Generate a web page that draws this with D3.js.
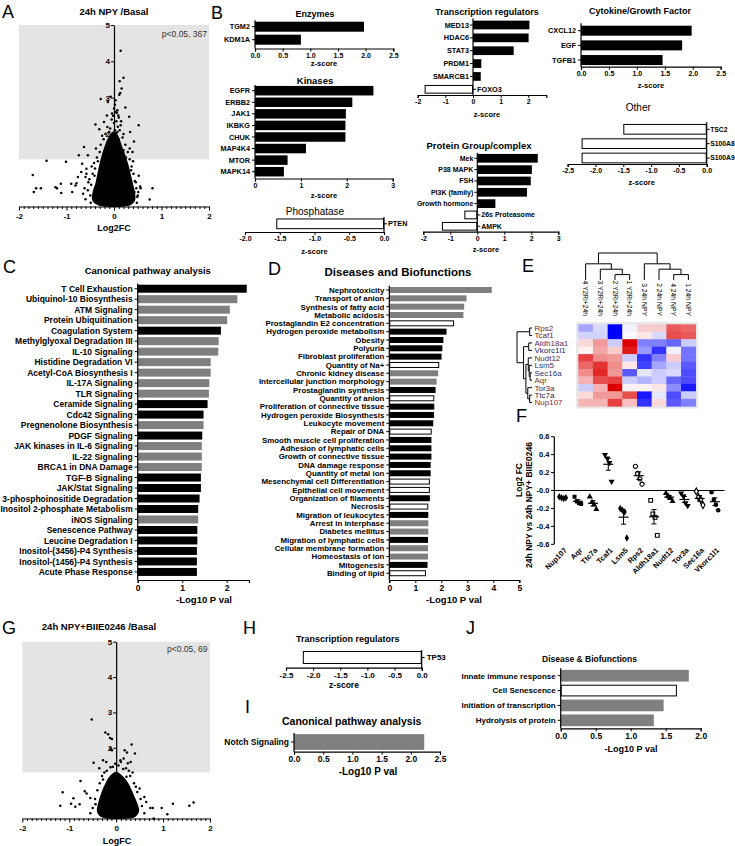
<!DOCTYPE html>
<html><head><meta charset="utf-8">
<script src="https://cdn.jsdelivr.net/npm/d3@7/dist/d3.min.js"></script>
<style>html,body{margin:0;padding:0;background:#fff}svg{display:block}</style>
</head><body>
<svg id="fig" width="735" height="846" font-family="'Liberation Sans', Arial, Helvetica, sans-serif"></svg>
<script>
// ===================== DATA =====================
// Panel A volcano (24h NPY / Basal): dense core outline + individual points [log2FC, -log10 p]
const volcA_core = [[-0.22,0],[-0.38,0.06],[-0.46,0.18],[-0.45,0.4],[-0.39,0.65],[-0.35,0.9],[-0.31,1.15],[-0.26,1.4],[-0.2,1.65],[-0.12,1.9],[-0.04,2.05],[0.04,2.05],[0.11,1.88],[0.18,1.62],[0.25,1.38],[0.31,1.12],[0.36,0.85],[0.41,0.58],[0.45,0.32],[0.44,0.15],[0.36,0.05],[0.22,0]];
const volcA_pts = [[0.14,4.29],[0.2,3.55],[0.12,3.45],[0.16,3.25],[0.13,3.13],[0.11,3.08],[-0.28,2.96],[-0.07,3.02],[-0.13,2.88],[0.03,2.93],[0.07,2.65],[0.06,2.58],[0.09,2.51],[0.24,2.73],[-0.04,2.56],[-0.15,2.51],[0.32,2.47],[0.52,2.24],[-0.39,2.26],[-0.21,2.33],[-0.31,2.13],[-0.14,2.19],[0.14,2.24],[0.34,2.05],[-0.63,1.64],[-0.74,1.41],[-0.55,1.41],[-1.42,1.26],[-1.01,1.23],[0.42,1.79],[0.39,1.5],[-0.67,1.18],
[-1.71,0.87],[-1.69,0.4],[-1.64,0.5],[-1.54,0.5],[-1.23,0.53],[-1.12,0.63],[-1.2,0.5],[-1.11,0.37],[-0.9,0.63],[-0.88,0.4],[-0.79,0.64],[-0.76,0.81],[-0.81,0.58],[0.81,0.5],[0.75,0.19],[0.51,0.4],[0.49,0.26],[0.56,0.5],[0.46,0.67],[-0.69,0.95],[-0.58,1.04],[-0.6,0.81],[-0.54,0.67],
[-0.5,0.3],[-0.55,0.45],[-0.48,0.6],[-0.52,0.75],[-0.45,0.9],[-0.4,1.05],[-0.42,1.2],[-0.36,1.35],[-0.3,1.5],[-0.28,1.7],[-0.22,1.85],[-0.18,2.0],[-0.1,2.05],[-0.6,0.2],[-0.62,0.5],[-0.65,0.35],[-0.58,0.9],[-0.47,1.1],[-0.38,1.6],[-0.25,1.95],[0.48,0.1],[0.5,0.3],[0.47,0.5],[0.44,0.7],[0.41,0.9],[0.37,1.1],[0.33,1.3],[0.29,1.5],[0.24,1.7],[0.18,1.9],[0.12,2.1],[0.55,0.55],[0.52,0.85],[0.4,1.25],[0.33,1.6],[0.2,2.0],[0.08,2.2],[0.0,2.3],[0.15,2.35],[-0.05,2.4],[0.03,2.6],[0.1,2.45],
[-0.2,1.4],[-0.15,1.55],[-0.12,1.75],[-0.05,1.9],[0.02,2.1],[0.07,2.05],[0.1,1.85],[0.15,1.6],[0.2,1.55],[0.25,1.35],[-0.08,2.15],[0.05,2.35],[-0.02,2.5],[0.0,2.7],[0.02,2.8],[-0.34,1.25],[0.36,1.0],[-0.41,0.85],[0.43,0.4],[-0.49,0.1]];
const volcA_note = 'p<0.05, 367';

// Panel G volcano (24h NPY+BIIE0246 / Basal)
const volcG_core = [[-0.2,0],[-0.34,0.06],[-0.41,0.2],[-0.38,0.45],[-0.31,0.75],[-0.22,1.02],[-0.12,1.22],[0.0,1.32],[0.12,1.22],[0.25,1.02],[0.34,0.78],[0.43,0.5],[0.49,0.22],[0.42,0.06],[0.25,0]];
const volcG_pts = [[-0.52,2.8],[-0.23,2.43],[-0.17,2.38],[-0.13,2.28],[-0.09,2.25],[0.33,2.09],[-0.12,1.98],[-0.09,1.93],[0.18,1.93],[0.23,1.87],[0.4,1.84],[-0.48,1.58],[-0.28,1.65],[-0.21,1.6],[0.09,1.65],[0.16,1.7],[0.25,1.56],[0.31,1.6],[-0.36,1.42],[-0.07,1.46],[0.21,1.42],[-0.76,1.06],[-1.14,0.74],[-1.19,0.36],[-0.96,0.42],[-0.91,0.57],[-0.87,0.33],[-0.67,0.77],[-0.63,0.71],[-0.55,0.58],[-0.78,0.4],[1.56,0.36],[1.65,0.45],[1.21,0.42],[1.09,0.12],[0.97,0.3],[0.78,0.3],[0.73,0.3],[0.8,0.0],[0.6,0.61],[0.64,0.47],[0.5,0.85],
[-0.5,0.3],[-0.45,0.55],[-0.4,0.8],[-0.35,1.0],[-0.3,1.2],[-0.2,1.35],[-0.12,1.45],[0.05,1.5],[0.15,1.4],[0.3,1.2],[0.38,1.0],[0.45,0.75],[0.52,0.55],[0.55,0.35],[0.6,0.15],[-0.55,0.15],[0.35,1.3],[0.27,1.35],[-0.25,1.3],[0.1,1.6],[-0.02,1.55],[0.22,1.18],[-0.28,1.1],[0.42,0.9],[-0.44,0.4]];
const volcG_note = 'p<0.05, 69';

// Panel B
const enzCats = ['TGM2','KDM1A'];            const enzVals = [1.97,0.83];
const kinCats = ['EGFR','ERBB2','JAK1','IKBKG','CHUK','MAP4K4','MTOR','MAPK14'];
const kinVals = [2.58,2.12,1.98,1.97,1.97,1.11,0.71,0.63];
const phoCats = ['PTEN'];                    const phoVals = [-1.55];
const trCats = ['MED13','HDAC6','STAT3','PRDM1','SMARCB1','FOXO3'];
const trVals = [2.04,2.01,1.47,0.30,0.28,-1.75];
const pgCats = ['Mek','P38 MAPK','FSH','PI3K (family)','Growth hormone','26s Proteasome','AMPK'];
const pgVals = [2.24,2.02,1.98,1.84,0.67,-0.48,-1.31];
const cyCats = ['CXCL12','EGF','TGFB1'];     const cyVals = [1.98,1.81,1.46];
const otCats = ['TSC2','S100A8','S100A9'];   const otVals = [-1.5,-2.25,-2.25];

// Panel C (canonical pathways) ; class: b=black, g=grey
const cpCats = ['T Cell Exhaustion','Ubiquinol-10 Biosynthesis','ATM Signaling','Protein Ubiquitination','Coagulation System','Methylglyoxal Degradation III','IL-10 Signaling','Histidine Degradation VI','Acetyl-CoA Biosynthesis I','IL-17A Signaling','TLR Signaling','Ceramide Signaling','Cdc42 Signaling','Pregnenolone Biosynthesis','PDGF Signaling','JAK kinases in IL-6 Signaling','IL-22 Signaling','BRCA1 in DNA Damage','TGF-B Signaling','JAK/Stat Signaling','3-phosphoinositide Degradation','Inositol 2-phosphate Metabolism','iNOS Signaling','Senescence Pathway','Leucine Degradation I','Inositol-(3456)-P4 Synthesis','Inositol-(1456)-P4 Synthesis','Acute Phase Response'];
const cpVals = [2.45,2.24,2.07,2.01,1.87,1.82,1.81,1.64,1.64,1.61,1.60,1.57,1.48,1.48,1.45,1.44,1.44,1.44,1.42,1.42,1.39,1.36,1.36,1.34,1.34,1.33,1.33,1.33];
const cpClass = ['b','g','g','g','b','g','g','g','g','g','g','b','b','g','b','g','g','g','b','b','b','b','g','b','b','b','b','b'];

// Panel D (diseases and biofunctions) ; w = white
const dbCats = ['Nephrotoxicity','Transport of anion','Synthesis of fatty acid','Metabolic acidosis','Prostaglandin E2 concentration','Hydrogen peroxide metabolism','Obesity','Polyuria','Fibroblast proliferation','Quantity of Na+','Chronic kidney disease','Intercellular junction morphology','Prostaglandin synthesis','Quantity of anion','Proliferation of connective tissue ','Hydrogen peroxide Biosynthesis','Leukocyte movement','Repair of DNA','Smooth muscle cell proliferation','Adhesion of lymphatic cells','Growth of connective tissue','DNA damage response','Quantity of metal ion','Mesenchymal cell Differentiation','Epithelial cell movement','Organization of filaments','Necrosis','Migration of leukocytes','Arrest in interphase','Diabetes mellitus','Migration of lymphatic cells','Cellular membrane formation','Homeostasis of ion','Mitogenesis','Binding of lipid'];
const dbVals = [3.94,2.97,2.88,2.85,2.49,2.20,2.08,2.04,2.01,1.92,1.88,1.82,1.78,1.73,1.73,1.72,1.69,1.63,1.62,1.62,1.62,1.59,1.59,1.56,1.56,1.56,1.50,1.50,1.50,1.50,1.49,1.49,1.49,1.47,1.41];
const dbClass = ['g','g','g','g','w','b','b','b','b','w','g','g','b','w','b','b','b','w','b','b','b','b','b','w','w','b','w','b','g','g','b','g','g','b','w'];

// Panel E heatmap (row z-scores)
const hmRows = ['Rps2','Tcaf1','Aldh18a1','Vkorc1l1','Nudt12','Lsm5','Sec16a','Aqr','Tor3a','Ttc7a','Nup107'];
const hmCols = ['4 Y2Ri+24h','3 Y2Ri+24h','2 Y2Ri+24h','1 Y2Ri+24h','3 24h NPY','2 24h NPY','4 24h NPY','1 24h NPY'];
const hmVals = [
 [-0.7,-0.3,-2.0,-0.1, 0.4, 0.4, 1.3, 1.2],
 [-0.35,-0.35,-2.0,-0.05,0.2,-0.3,1.4, 1.3],
 [ 0.3, 0.8,-0.4, 2.0,-1.0,-1.0,-1.2,-0.4],
 [ 0.1, 0.7, 0.4, 1.8,-0.8,-1.6,-0.1,-1.1],
 [ 1.5, 0.9, 0.8,-0.4,-1.6,-1.0, 0.4,-1.1],
 [ 1.2, 1.6, 0.9, 0.2,-1.5,-0.7,-0.4,-1.3],
 [ 0.9, 1.7, 0.8,-1.3,-0.2,-0.4,-0.3,-1.4],
 [ 0.6, 1.4, 1.5,-0.4,-0.6,-0.4,-1.2,-1.4],
 [-0.4, 0.6, 2.0, 0.1, 0.1, 0.2,-0.9,-1.8],
 [ 0.3, 0.8, 0.8, 1.4,-1.8,-0.2,-1.4,-0.4],
 [ 0.6, 0.6, 1.5, 0.5,-1.6, 0.3,-1.3,-1.0]];
// dendrogram merges: [a, b, height]; ids >= n refer to earlier merges
const colMerges = [[2,3,1],[1,8,2],[0,9,3],[6,7,1],[5,11,2],[4,12,3],[10,13,5]];
const rowMerges = [[0,1,0.5],[2,3,0.7],[6,7,0.4],[5,13,0.6],[4,14,0.8],[9,10,0.5],[8,16,0.9],[15,17,1.3],[12,18,1.8],[11,19,3.2]];

// Panel F dot plot
const fCats = ['Nup107','Aqr','Ttc7a','Tcaf1','Lsm5','Rps2','Aldh18a1','Nudt12','Tor3a','Sec16a','Vkorc1l1'];
const fVals = [
 [-0.07,-0.08,-0.09,-0.08],
 [-0.07,-0.12,-0.14,-0.15],
 [-0.07,-0.13,-0.16,-0.21],
 [0.40,0.36,0.31,0.10],
 [-0.20,-0.22,-0.24,-0.53],
 [0.27,0.19,0.13,0.07],
 [-0.11,-0.26,-0.30,-0.50],
 [-0.03,-0.06,-0.085,-0.12],
 [-0.03,-0.06,-0.14,-0.17],
 [-0.01,-0.074,-0.104,-0.163],
 [-0.02,-0.10,-0.16,-0.22]];
const fTicks = [0.6,0.4,0.2,0,-0.2,-0.4,-0.6];
const fTickLabels = ['0.6','0.4','0.2','-0.0','-0.2','-0.4','-0.6'];

// Panel H, I, J
const hCats = ['TP53'];            const hVals = [-2.19];
const iCats = ['Notch Signaling']; const iVals = [2.23];
const jCats = ['Innate immune response','Cell Senescence','Initiation of transcription','Hydrolysis of protein'];
const jVals = [1.83,1.66,1.47,1.33];
const jClass = ['g','w','g','g'];

// ===================== DRAWING =====================
const svg = d3.select('#fig');
const FILL = {b:'#000', g:'#7f7f7f', w:'#fff'};

function T(x,y,s,size,o={}){
  return svg.append('text').attr('x',x).attr('y',y).text(s)
    .attr('font-size',size).attr('font-weight',o.w||'bold')
    .attr('text-anchor',o.a||'middle').attr('fill',o.fill||'#000');
}
const f1 = v => v.toFixed(1), f0 = v => String(v);

function hbar(o){
  const g = svg.append('g');
  const x = d3.scaleLinear().domain(o.dom).range([o.x0,o.x1]);
  const n = o.cats.length, p = 1 - o.bh/o.step;
  const top = o.c0 - o.step/2;
  const y = d3.scaleBand().domain(o.cats).range([top, top + n*o.step]).paddingInner(p).paddingOuter(p/2);
  const gap = o.gap || 5;
  o.cats.forEach((c,i)=>{
    const v = o.vals[i], cls = o.cls ? o.cls[i] : (v<0?'w':'b');
    g.append('rect').attr('x',x(Math.min(0,v))+(cls==='w'?0.5:0)).attr('y',y(c)+(cls==='w'?0.5:0))
      .attr('width',Math.abs(x(v)-x(0))-(cls==='w'?1:0)).attr('height',y.bandwidth()-(cls==='w'?1:0))
      .attr('fill',FILL[cls]).attr('stroke',cls==='w'?'#000':'none').attr('stroke-width',1);
    const neg = v<0, cy = y(c)+y.bandwidth()/2;
    g.append('line').attr('x1',x(0)).attr('x2',x(0)+(neg?3:-3)).attr('y1',cy).attr('y2',cy).attr('stroke','#000');
    g.append('text').attr('x',x(0)+(neg?gap:-gap)).attr('y',cy).attr('dy','0.36em')
      .attr('text-anchor',neg?'start':'end').attr('font-size',o.ls).attr('font-weight','bold').text(c);
  });
  g.append('line').attr('x1',x(0)).attr('x2',x(0)).attr('y1',top).attr('y2',o.axisY).attr('stroke','#000').attr('stroke-width',1.2);
  const ax = d3.axisBottom(x).tickValues(o.ticks).tickFormat(o.fmt).tickSizeOuter(0).tickSize(3).tickPadding(1.5);
  const a = g.append('g').attr('transform',`translate(0,${o.axisY})`).call(ax);
  a.attr('font-family',null).attr('font-size',null);
  a.select('.domain').attr('stroke-width',1.2);
  a.selectAll('.tick text').attr('font-size',o.ts).attr('font-weight','bold');
  T(o.title[1],o.title[2],o.title[0],o.title[3],{w:o.title[4]||'bold'});
  T(o.xl[1],o.xl[2],o.xl[0],o.xl[3]||8);
}

function volcano(o){
  const g = svg.append('g');
  const x = d3.scaleLinear().domain([-2,2]).range([o.x0,o.x1]);
  const y = d3.scaleLinear().domain([0,5]).range([o.yBot,o.yTop]);
  g.append('rect').attr('x',x(-2)).attr('y',y(5)).attr('width',x(2)-x(-2)).attr('height',y(1.3)-y(5)).attr('fill','#e4e4e4');
  const isInt = d => Math.abs(d-Math.round(d))<1e-6;
  const ax = d3.axisBottom(x).tickValues(d3.range(-20,21).map(i=>i/10)).tickFormat(d=>isInt(d)?String(Math.round(d)):'').tickSizeOuter(0).tickPadding(1);
  const a = g.append('g').attr('transform',`translate(0,${y(0)})`).call(ax);
  a.attr('font-family',null).attr('font-size',null);
  a.selectAll('.tick line').attr('y2',d=>isInt(d)?4:2.5);
  a.selectAll('.tick text').attr('font-size',8).attr('font-weight','bold');
  a.select('.domain').attr('stroke-width',1.2);
  const ay = d3.axisLeft(y).tickValues([1,2,3,4,5]).tickFormat(d3.format('d')).tickSize(3).tickSizeOuter(0).tickPadding(1);
  const b = g.append('g').attr('transform',`translate(${x(0)},0)`).call(ay);
  b.attr('font-family',null).attr('font-size',null);
  b.selectAll('.tick text').attr('font-size',8).attr('font-weight','bold');
  b.select('.domain').attr('stroke-width',1.2);
  g.append('path').datum(o.core).attr('d',d3.line().x(d=>x(d[0])).y(d=>y(d[1])).curve(d3.curveCatmullRomClosed)).attr('fill','#000');
  g.selectAll('circle.p').data(o.pts).join('circle').attr('cx',d=>x(d[0])).attr('cy',d=>y(d[1])).attr('r',1.25).attr('fill','#000');
  T(o.note[1],o.note[2],o.note[0],8.5,{w:'normal',a:'end',fill:'#333'});
  T(o.title[1],o.title[2],o.title[0],9.5);
  T(o.xl[1],o.xl[2],o.xl[0],9);
}

// ---- panel letters
[['A',2,18],['B',211,19],['C',3,273],['D',268,275],['E',522,272],['F',516,422],['G',2,634],['H',243,634],['I',245,713],['J',466,634]]
  .forEach(d=>T(d[1],d[2],d[0],18,{w:'normal',a:'start'}));

// ---- A and G
volcano({x0:19,x1:209,yTop:25,yBot:206.5,core:volcA_core,pts:volcA_pts,note:[volcA_note,207,36.5],title:['24h NPY /Basal',114,15],xl:['Log2FC',114,231]});
volcano({x0:22.3,x1:210,yTop:641.7,yBot:818.5,core:volcG_core,pts:volcG_pts,note:[volcG_note,207.5,652],title:['24h NPY+BIIE0246 /Basal',99,630],xl:['LogFC',117,844]});

// ---- B
const t05 = [0,0.5,1,1.5,2,2.5];
hbar({cats:enzCats,vals:enzVals,x0:255,x1:393.3,dom:[0,2.5],ticks:t05,fmt:f1,c0:26.7,step:13,bh:10,axisY:48.5,ls:7.3,ts:7,title:['Enzymes',315,17,9],xl:['z-score',324,66,7.5]});
hbar({cats:kinCats,vals:kinVals,x0:255,x1:392.7,dom:[0,3],ticks:[0,1,2,3],fmt:f0,c0:90.7,step:11.57,bh:9.5,axisY:178.5,ls:7.3,ts:7,title:['Kinases',315,84,9.5],xl:['z-score',324,198,7.5]});
hbar({cats:phoCats,vals:phoVals,x0:245,x1:384,dom:[-2,0],ticks:[-2,-1.5,-1,-0.5,0],fmt:f1,c0:223.8,step:13.5,bh:10.7,axisY:232,ls:7.3,ts:7,gap:4,title:['Phosphatase',315,214.5,10,'normal'],xl:['z-score',314.5,253.5,7.5]});
hbar({cats:trCats,vals:trVals,x0:417.7,x1:546.3,dom:[-2,2.65],ticks:[-2,-1,0,1,2],fmt:f0,c0:25,step:12.86,bh:8.7,axisY:95,ls:7.3,ts:7,gap:4,title:['Transcription regulators',487,15,9],xl:['z-score',487,116.5,7.5]});
hbar({cats:pgCats,vals:pgVals,x0:423.3,x1:558.3,dom:[-2,3],ticks:[-2,-1,0,1,2,3],fmt:f0,c0:158.3,step:11.33,bh:8.7,axisY:231.7,ls:7,ts:7,gap:4,title:['Protein Group/complex',479,148.5,9.5],xl:['z-score',486,251.5,7.5]});
hbar({cats:cyCats,vals:cyVals,x0:581,x1:720.7,dom:[0,2.5],ticks:t05,fmt:f1,c0:30.7,step:14.67,bh:10,axisY:66.7,ls:7.3,ts:7,title:['Cytokine/Growth Factor',640,13.5,9],xl:['z-score',651,88,7.5]});
hbar({cats:otCats,vals:otVals,x0:567.7,x1:706.7,dom:[-2.5,0],ticks:[-2.5,-2,-1.5,-1,-0.5,0],fmt:f1,c0:129.3,step:14.35,bh:10.7,axisY:164,ls:6.8,ts:7,gap:3.5,title:['Other',638.3,111,10,'normal'],xl:['z-score',641.7,184.5,7.5]});

// ---- C, D
hbar({cats:cpCats,vals:cpVals,cls:cpClass,x0:137.7,x1:248.95,dom:[0,2.5],ticks:[0,1,2],fmt:f0,c0:288.7,step:10.49,bh:8,axisY:580,ls:8.5,ts:8.5,title:['Canonical pathway analysis',147.8,274,9.5],xl:['-Log10 P val',204,602.5,9.5]});
hbar({cats:dbCats,vals:dbVals,cls:dbClass,x0:389.3,x1:519.3,dom:[0,5],ticks:[0,1,2,3,4,5],fmt:f0,c0:290,step:8.33,bh:6,axisY:580,ls:7.9,ts:8.5,title:['Diseases and Biofunctions',398,276,11.5],xl:['-Log10 P val',454,602.5,9.5]});

// ---- H, I, J
hbar({cats:hCats,vals:hVals,x0:286,x1:421.7,dom:[-2.5,0],ticks:[-2.5,-2,-1.5,-1,-0.5,0],fmt:f1,c0:657.5,step:15,bh:13,axisY:667.7,ls:8,ts:8,title:['Transcription regulators',347.7,641.7,9],xl:['z-score',344,688,8.5]});
hbar({cats:iCats,vals:iVals,cls:['g'],x0:294,x1:440,dom:[0,2.5],ticks:t05,fmt:f1,c0:742,step:18,bh:15.7,axisY:751.7,ls:8.5,ts:8.5,title:['Canonical pathway analysis',351.7,725,10.5],xl:['-Log10 P val',368,775,10]});
hbar({cats:jCats,vals:jVals,cls:jClass,x0:560.7,x1:700.7,dom:[0,2],ticks:[0,0.5,1,1.5,2],fmt:f1,c0:675.7,step:14.87,bh:11.7,axisY:728.3,ls:8,ts:8.5,title:['Disease & Biofunctions',589.5,661.7,8.5],xl:['-Log10 P val',631,751.7,9]});

// ---- E heatmap
(function(){
  const g = svg.append('g');
  const x = d3.scaleBand().domain(hmCols).range([578.3,695.7]);
  const y = d3.scaleBand().domain(hmRows).range([324.3,406.3]);
  const col = d3.scaleLinear().domain([-2,0,2]).range(['#0000ff','#ffffff','#dd0000']).clamp(true);
  g.append('rect').attr('x',576).attr('y',322).attr('width',122).attr('height',86.5).attr('fill','#e8e8e8');
  hmRows.forEach((r,i)=>hmCols.forEach((c,j)=>{
    g.append('rect').attr('x',x(c)).attr('y',y(r)).attr('width',x.bandwidth()+0.3).attr('height',y.bandwidth()+0.3).attr('fill',col(hmVals[i][j]));
  }));
  hmCols.forEach(c=>{
    g.append('text').attr('transform',`translate(${x(c)+x.bandwidth()/2},316) rotate(90)`).attr('dy','0.35em')
      .attr('text-anchor','end').attr('font-size',6.8).text(c);
  });
  const rowColors = ['#7a2020','#7a2020','#5a2a6a','#1a2a6a','#5a2a4a','#2a3a7a','#2a3a7a','#6a3a2a','#3a2a3a','#2a2a4a','#9a2020'];
  hmRows.forEach((r,i)=>{
    g.append('text').attr('x',534.5).attr('y',y(r)+y.bandwidth()/2).attr('dy','0.36em').attr('font-size',8).attr('fill',rowColors[i]).text(r);
  });
  function dendro(merges, n, leafPos, hScale, vertical){
    const pos = leafPos.slice(), h = new Array(n).fill(0);
    merges.forEach(([a,b,ht])=>{
      const pa = pos[a], pb = pos[b], ha = h[a], hb = h[b];
      const d = vertical ? `M${pa},${hScale(ha)}V${hScale(ht)}H${pb}V${hScale(hb)}` : `M${hScale(ha)},${pa}H${hScale(ht)}V${pb}H${hScale(hb)}`;
      g.append('path').attr('d',d).attr('fill','none').attr('stroke','#000').attr('stroke-width',1);
      pos.push((pa+pb)/2); h.push(ht);
    });
  }
  dendro(colMerges, 8, hmCols.map(c=>x(c)+x.bandwidth()/2), d3.scaleLinear().domain([0,5]).range([280,253]), true);
  dendro(rowMerges, 11, hmRows.map(r=>y(r)+y.bandwidth()/2), d3.scaleLinear().domain([0,3.2]).range([532,517]), false);
})();

// ---- F dot plot
(function(){
  const g = svg.append('g');
  const x = d3.scaleBand().domain(fCats).range([555,722.5]);
  const y = d3.scaleLinear().domain([-0.6,0.6]).range([544.3,436.7]);
  g.append('line').attr('x1',554.3).attr('x2',554.3).attr('y1',y(0.6)).attr('y2',y(-0.6)).attr('stroke','#000').attr('stroke-width',1.2);
  fTicks.forEach((t,i)=>{
    g.append('line').attr('x1',551).attr('x2',554.3).attr('y1',y(t)).attr('y2',y(t)).attr('stroke','#000');
    g.append('text').attr('x',549.5).attr('y',y(t)).attr('dy','0.36em').attr('text-anchor','end').attr('font-size',7.5).attr('font-weight','bold').text(fTickLabels[i]);
  });
  g.append('line').attr('x1',554.3).attr('x2',724.5).attr('y1',y(0)).attr('y2',y(0)).attr('stroke','#000').attr('stroke-width',1.2);
  const sym = {Nup107:[d3.symbolDiamond,1],Aqr:[d3.symbolSquare,1],Ttc7a:[d3.symbolTriangle,1],Tcaf1:[d3.symbolTriangle,1,180],Lsm5:[d3.symbolDiamond,1],Rps2:[d3.symbolCircle,0],Aldh18a1:[d3.symbolSquare,0],Nudt12:[d3.symbolTriangle,1],Tor3a:[d3.symbolTriangle,1,180],Sec16a:[d3.symbolDiamond,0],Vkorc1l1:[d3.symbolCircle,1]};
  fCats.forEach((c,i)=>{
    const cx = x(c)+x.bandwidth()/2, vals = fVals[i];
    const m = d3.mean(vals), se = d3.deviation(vals)/Math.sqrt(vals.length);
    const s = sym[c];
    vals.forEach((v,k)=>{
      const off = (k-1.5)*2.2;
      g.append('path').attr('d',d3.symbol().type(s[0]).size(s[1]?16:14)())
        .attr('transform',`translate(${cx+off},${y(v)}) rotate(${s[2]||0})`)
        .attr('fill',s[1]?'#000':'#fff').attr('stroke','#000').attr('stroke-width',s[1]?0:1.1);
    });
    g.append('line').attr('x1',cx-5).attr('x2',cx+5).attr('y1',y(m)).attr('y2',y(m)).attr('stroke','#000').attr('stroke-width',1.2);
    g.append('line').attr('x1',cx).attr('x2',cx).attr('y1',y(m+se)).attr('y2',y(m-se)).attr('stroke','#000').attr('stroke-width',1);
    [m+se,m-se].forEach(v=>g.append('line').attr('x1',cx-2.5).attr('x2',cx+2.5).attr('y1',y(v)).attr('y2',y(v)).attr('stroke','#000').attr('stroke-width',1));
    g.append('text').attr('transform',`translate(${cx+3},549) rotate(-45)`).attr('text-anchor','end').attr('dy','0.35em')
      .attr('font-size',7.5).attr('font-weight','bold').text(c);
  });
  g.append('text').attr('transform','translate(522,480) rotate(-90)').attr('text-anchor','middle').attr('font-size',8.5).attr('font-weight','bold').text('Log2 FC');
  g.append('text').attr('transform','translate(532,505) rotate(-90)').attr('text-anchor','middle').attr('font-size',8.5).attr('font-weight','bold').text('24h NPY vs 24h NPY+ BIIE0246');
})();
</script>
</body></html>
